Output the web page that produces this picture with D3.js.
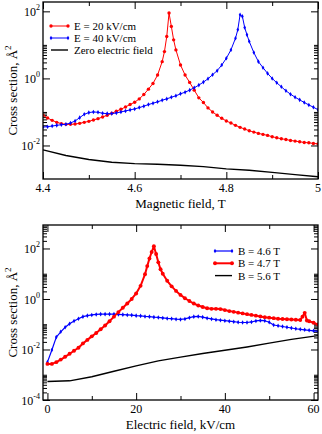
<!DOCTYPE html>
<html>
<head>
<meta charset="utf-8">
<script src="https://cdn.jsdelivr.net/npm/d3@7"></script>
<style>
  body { margin: 0; background: #fff; }
  text { font-family: "Liberation Serif", "Times New Roman", serif; fill: #000; }
</style>
</head>
<body>
<div id="chart"></div>
<script>
// ---- top panel: cross section vs magnetic field ----
var bField_e20 = [4.40,4.41,4.42,4.43,4.44,4.45,4.46,4.47,4.48,4.49,4.50,4.51,4.52,4.53,4.54,4.55,4.56,4.57,4.58,4.59,
  4.60,4.61,4.62,4.63,4.64,4.65,4.66,4.665,4.67,4.675,4.68,4.685,4.69,4.70,4.71,4.72,4.73,4.74,4.75,4.76,4.77,4.78,4.79,
  4.80,4.81,4.82,4.83,4.84,4.85,4.86,4.87,4.88,4.89,4.90,4.91,4.92,4.93,4.94,4.95,4.96,4.97,4.98,4.99,5.00];
var sigma_e20 = [0.0794,0.066,0.0562,0.049,0.0447,0.0427,0.0427,0.0437,0.0457,0.049,0.0525,0.0575,0.0631,0.0708,0.0794,
  0.0912,0.105,0.120,0.141,0.166,0.195,0.245,0.331,0.479,0.708,1.26,3.16,6.31,17.8,89.1,35.5,14.1,7.08,2.51,1.26,0.759,
  0.447,0.263,0.191,0.132,0.100,0.0794,0.0646,0.0537,0.0468,0.0398,0.0347,0.0309,0.0275,0.0251,0.0229,0.0214,0.0200,
  0.0182,0.0170,0.0158,0.0151,0.0141,0.0135,0.0129,0.0123,0.0120,0.0115,0.0112];

var bField_e40 = [4.40,4.41,4.42,4.43,4.44,4.45,4.46,4.47,4.48,4.49,4.50,4.51,4.52,4.53,4.54,4.55,4.56,4.57,4.58,4.59,
  4.60,4.61,4.62,4.63,4.64,4.65,4.66,4.67,4.68,4.69,4.70,4.71,4.72,4.73,4.74,4.75,4.76,4.77,4.78,4.79,4.80,4.81,4.82,
  4.825,4.83,4.835,4.84,4.845,4.85,4.86,4.87,4.88,4.89,4.90,4.91,4.92,4.93,4.94,4.95,4.96,4.97,4.98,4.99,5.00];
var sigma_e40 = [0.0355,0.0363,0.0380,0.0398,0.0417,0.0427,0.0468,0.0537,0.0676,0.0851,0.0955,0.100,0.0977,0.0912,
  0.0891,0.0891,0.0933,0.100,0.107,0.115,0.123,0.135,0.148,0.166,0.182,0.200,0.224,0.245,0.275,0.302,0.347,0.389,0.447,
  0.525,0.631,0.776,0.977,1.29,1.70,2.51,3.98,7.08,15.8,28.2,79.4,70.8,33.1,20.0,12.6,5.89,3.16,2.09,1.41,1.00,0.741,
  0.562,0.427,0.339,0.275,0.229,0.191,0.162,0.138,0.117];

var bField_zero = [4.40,4.45,4.50,4.55,4.60,4.65,4.70,4.75,4.80,4.85,4.90,4.95,5.00];
var sigma_zero = [0.00741,0.00501,0.00380,0.00316,0.00288,0.00275,0.00257,0.00234,0.00200,0.00182,0.00158,0.00135,0.00117];

var topNames = ["E = 20 kV/cm", "E = 40 kV/cm", "Zero electric field"];
var topXTicks = [4.4, 4.6, 4.8, 5.0];
var topXLabels = ["4.4", "4.6", "4.8", "5"];
var topXMinor = [4.5, 4.7, 4.9];
var topYTicks = [1e-2, 1, 1e2];
var topYExp = ["-2", "0", "2"];

// ---- bottom panel: cross section vs electric field ----
var eField_b46 = [0,1,2,3,4,5,6,7,8,9,10,11,12,13,14,15,16,17,18,19,20,21,22,23,24,25,26,27,28,29,30,
  31,32,33,34,35,36,37,38,39,40,41,42,43,44,45,46,47,48,49,50,51,52,53,54,55,56,57,58,59,60,61];
var sigma_b46 = [0.00316,0.00955,0.0309,0.0501,0.0759,0.105,0.135,0.166,0.200,0.219,0.234,0.245,0.251,0.251,0.251,
  0.251,0.245,0.240,0.234,0.229,0.219,0.214,0.204,0.200,0.191,0.186,0.178,0.170,0.166,0.158,0.155,0.162,0.182,0.200,
  0.204,0.191,0.174,0.162,0.151,0.145,0.138,0.132,0.126,0.120,0.117,0.117,0.123,0.135,0.141,0.138,0.120,0.0933,0.0871,
  0.0813,0.0759,0.0708,0.0661,0.0631,0.0603,0.0575,0.0550,0.0525];

var eField_b47 = [0,1,2,3,4,5,6,7,8,9,10,11,12,13,14,15,16,17,18,19,20,21,22,22.5,23,23.5,24,24.5,25,25.5,26,27,28,
  29,30,31,32,33,34,35,36,37,38,39,40,41,42,43,44,45,46,47,48,49,50,51,52,53,54,55,56,57,57.5,58,58.5,59,60,61];
var sigma_b47 = [0.00269,0.00269,0.00316,0.00398,0.00513,0.00676,0.00891,0.0117,0.0174,0.0240,0.0331,0.0447,0.0631,
  0.0891,0.132,0.200,0.302,0.447,0.661,1.00,1.66,3.31,9.55,20.0,39.8,72.4,123,60.3,28.2,15.1,10.0,5.25,3.16,2.09,1.45,
  1.07,0.832,0.661,0.550,0.479,0.427,0.407,0.407,0.398,0.363,0.331,0.309,0.288,0.269,0.251,0.234,0.219,0.204,0.191,
  0.182,0.174,0.166,0.162,0.158,0.155,0.151,0.148,0.200,0.282,0.141,0.132,0.115,0.0977];

var eField_b56 = [0,5,10,15,20,25,30,35,40,45,50,55,61];
var sigma_b56 = [5.37e-4,5.75e-4,8.32e-4,1.38e-3,2.24e-3,3.55e-3,5.01e-3,6.92e-3,9.33e-3,0.0126,0.0178,0.0251,0.0355];

var botNames = ["B = 4.6 T", "B = 4.7 T", "B = 5.6 T"];
var botXTicks = [0, 20, 40, 60];
var botXLabels = ["0", "20", "40", "60"];
var botXMinor = [10, 30, 50];
var botYTicks = [1e-4, 1e-2, 1, 1e2];
var botYExp = ["-4", "-2", "0", "2"];

var svg = d3.select("#chart").append("svg")
    .attr("width", 322)
    .attr("height", 434);

function drawPanel(p) {
  var x = d3.scaleLinear().domain(p.xDomain).range([p.left, p.right]);
  var y = d3.scaleLog().domain(p.yDomain).range([p.bottom, p.top]);
  var g = svg.append("g");

  g.append("clipPath").attr("id", p.id).append("rect")
    .attr("x", p.left).attr("y", p.top)
    .attr("width", p.right - p.left).attr("height", p.bottom - p.top);

  // minor ticks k*major, k = 2..10 (xmgrace style)
  var yMinor = [];
  p.yTicks.forEach(function(m) {
    for (var k = 2; k <= 10; k++) {
      var v = k * m;
      if (v > p.yDomain[0] && v < p.yDomain[1]) yMinor.push(v);
    }
  });

  function ticks(axis, tr, vals, len) {
    var a = g.append("g").attr("transform", tr)
      .call(axis.tickValues(vals).tickSize(len).tickFormat(""));
    a.select(".domain").remove();
    a.selectAll("line").attr("stroke", "#000").attr("stroke-width", 1);
  }
  // inward ticks on all four sides
  ticks(d3.axisTop(x), "translate(0," + p.bottom + ")", p.xTicks, 7);
  ticks(d3.axisTop(x), "translate(0," + p.bottom + ")", p.xMinor, 4);
  ticks(d3.axisBottom(x), "translate(0," + p.top + ")", p.xTicks, 7);
  ticks(d3.axisBottom(x), "translate(0," + p.top + ")", p.xMinor, 4);
  ticks(d3.axisRight(y), "translate(" + p.left + ",0)", p.yTicks, 7);
  ticks(d3.axisRight(y), "translate(" + p.left + ",0)", yMinor, 4);
  ticks(d3.axisLeft(y), "translate(" + p.right + ",0)", p.yTicks, 7);
  ticks(d3.axisLeft(y), "translate(" + p.right + ",0)", yMinor, 4);

  // data
  var plot = g.append("g").attr("clip-path", "url(#" + p.id + ")");
  p.series.forEach(function(s) {
    var pts = s.x.map(function(v, i) { return [v, s.y[i]]; });
    plot.append("path").datum(pts)
      .attr("fill", "none")
      .attr("stroke", s.color)
      .attr("stroke-width", s.width)
      .attr("stroke-linejoin", "round")
      .attr("d", d3.line().x(function(d) { return x(d[0]); }).y(function(d) { return y(d[1]); }));
    if (s.marker) {
      plot.append("g").selectAll("path").data(pts).enter().append("path")
        .attr("transform", function(d) { return "translate(" + x(d[0]) + "," + y(d[1]) + ")"; })
        .attr("d", d3.symbol().type(s.marker).size(s.msize))
        .attr("fill", s.color);
    }
  });

  // frame
  g.append("rect")
    .attr("x", p.left).attr("y", p.top)
    .attr("width", p.right - p.left).attr("height", p.bottom - p.top)
    .attr("fill", "none").attr("stroke", "#000").attr("stroke-width", 1.3);

  // tick labels
  g.append("g").selectAll("text").data(p.xTicks).enter().append("text")
    .attr("x", function(d) { return x(d); })
    .attr("y", p.bottom + 13)
    .attr("text-anchor", "middle")
    .style("font-size", "12px")
    .text(function(d, i) { return p.xLabels[i]; });

  p.yTicks.forEach(function(d, i) {
    var t = g.append("text")
      .attr("x", p.left - 3)
      .attr("y", y(d) + 5)
      .attr("text-anchor", "end")
      .style("font-size", "12px");
    t.append("tspan").text("10");
    t.append("tspan").attr("dy", -6).style("font-size", "8px").text(p.yExp[i]);
  });

  // axis titles
  g.append("text")
    .attr("x", (p.left + p.right) / 2)
    .attr("y", p.bottom + 29)
    .attr("text-anchor", "middle")
    .style("font-size", "13px")
    .text(p.xTitle);

  var yt = g.append("text")
    .attr("transform", "translate(17," + ((p.top + p.bottom) / 2) + ") rotate(-90)")
    .attr("text-anchor", "middle")
    .style("font-size", "13px");
  yt.append("tspan").text("Cross section, \u00C5");
  yt.append("tspan").attr("dy", -6).style("font-size", "9px").text("2");

  // handmade legend
  p.series.forEach(function(s, i) {
    var ly = p.legY + i * p.legStep;
    g.append("line")
      .attr("x1", p.legX).attr("x2", p.legX + 17)
      .attr("y1", ly).attr("y2", ly)
      .attr("stroke", s.color).attr("stroke-width", s.width);
    if (s.marker) {
      [p.legX, p.legX + 17].forEach(function(mx) {
        g.append("path")
          .attr("transform", "translate(" + mx + "," + ly + ")")
          .attr("d", d3.symbol().type(s.marker).size(s.msize))
          .attr("fill", s.color);
      });
    }
    g.append("text")
      .attr("x", p.legX + 23).attr("y", ly + 4)
      .style("font-size", p.legFont)
      .text(p.names[i]);
  });
}

drawPanel({
  id: "clipTop",
  left: 43, right: 318, top: 2, bottom: 179,
  xDomain: [4.4, 5.0], yDomain: [1e-3, 190],
  xTicks: topXTicks, xLabels: topXLabels, xMinor: topXMinor,
  yTicks: topYTicks, yExp: topYExp,
  xTitle: "Magnetic field, T",
  names: topNames, legX: 51, legY: 26, legStep: 12, legFont: "11px",
  series: [
    {x: bField_e20, y: sigma_e20, color: "#ff0000", width: 1, marker: d3.symbolCircle, msize: 9},
    {x: bField_e40, y: sigma_e40, color: "#0000ff", width: 1, marker: d3.symbolDiamond, msize: 6},
    {x: bField_zero, y: sigma_zero, color: "#000000", width: 1.4, marker: null}
  ]
});

drawPanel({
  id: "clipBot",
  left: 43, right: 318, top: 225, bottom: 400,
  xDomain: [-1, 61], yDomain: [1e-4, 850],
  xTicks: botXTicks, xLabels: botXLabels, xMinor: botXMinor,
  yTicks: botYTicks, yExp: botYExp,
  xTitle: "Electric field, kV/cm",
  names: botNames, legX: 215, legY: 251, legStep: 12.3, legFont: "11px",
  series: [
    {x: eField_b46, y: sigma_b46, color: "#0000ff", width: 1.2, marker: d3.symbolDiamond, msize: 6},
    {x: eField_b47, y: sigma_b47, color: "#ff0000", width: 2, marker: d3.symbolCircle, msize: 12},
    {x: eField_b56, y: sigma_b56, color: "#000000", width: 1.4, marker: null}
  ]
});
</script>
</body>
</html>
